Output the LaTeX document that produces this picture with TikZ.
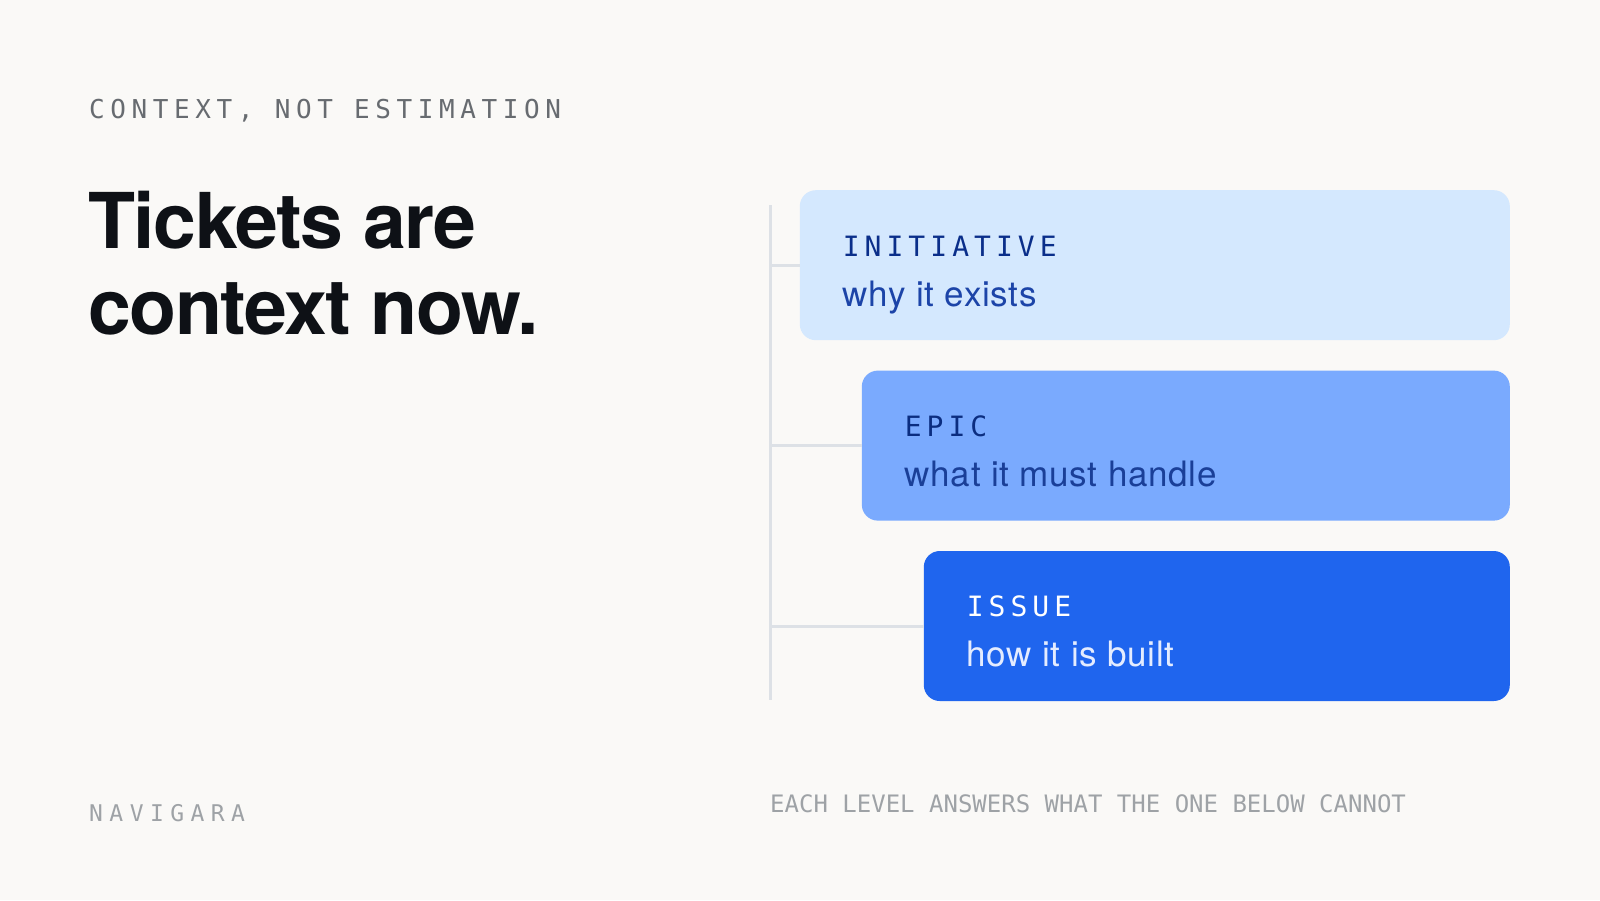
\documentclass[tikz,border=0pt]{standalone}
\usepackage{fontspec}
\setmainfont{TeX Gyre Heros}
\newfontfamily\titlefont[LetterSpace=-2]{TeX Gyre Heros}
\newfontfamily\whatfont[LetterSpace=2]{TeX Gyre Heros}
\newfontfamily\kickermono[LetterSpace=21.5]{DejaVu Sans Mono}
\newfontfamily\tagmono[LetterSpace=18]{DejaVu Sans Mono}
\newfontfamily\brandmono[LetterSpace=28]{DejaVu Sans Mono}
\newfontfamily\notemono{DejaVu Sans Mono}
\usetikzlibrary{positioning}

\definecolor{paper}{HTML}{FAF9F7}
\definecolor{ink}{HTML}{0E1116}
\definecolor{kickergray}{HTML}{676B70}
\definecolor{softgray}{HTML}{9EA2A6}
\definecolor{spine}{HTML}{DDE1E6}
\definecolor{initfill}{HTML}{D4E8FE}
\definecolor{epicfill}{HTML}{7AAAFE}
\definecolor{issuefill}{HTML}{1F65EE}
\definecolor{inittag}{HTML}{0A2E8A}
\definecolor{initwhat}{HTML}{1C44A8}
\definecolor{epictag}{HTML}{0B2D80}
\definecolor{epicwhat}{HTML}{1A3F98}
\definecolor{issuewhat}{HTML}{E4ECFF}

\begin{document}
\begin{tikzpicture}[x=1pt, y=-1pt, node distance=30pt]
	\tikzstyle{level}=[rectangle, rounded corners=16pt, minimum height=150pt, inner sep=0pt]
	\tikzstyle{tag}=[inner sep=0pt, anchor=base west, font=\tagmono\fontsize{28pt}{28pt}\selectfont]
	\tikzstyle{what}=[inner sep=0pt, anchor=base west, font=\whatfont\fontsize{35pt}{35pt}\selectfont]
	\tikzstyle{branch}=[draw=spine, line width=3pt]
	\fill[paper] (0,0) rectangle (1600,900);

	% left column
	\node[anchor=base west, inner sep=0pt, text=kickergray, font=\kickermono\fontsize{26pt}{26pt}\selectfont] (kicker) at (89,118) {CONTEXT, NOT ESTIMATION};
	\node[anchor=base west, inner sep=0pt, align=left, text=ink, font=\titlefont\bfseries\fontsize{77pt}{86pt}\selectfont] (title) at (88,334) {Tickets are\\context now.};
	\node[anchor=base west, inner sep=0pt, text=softgray, font=\brandmono\fontsize{23pt}{23pt}\selectfont] (brand) at (89,821) {NAVIGARA};

	% levels
	\node[level, fill=initfill, minimum width=710pt, anchor=north east] (initiative) at (1510,190) {};
	\node[level, fill=epicfill, minimum width=648pt, below=30pt of initiative.south east, anchor=north east] (epic) {};
	\node[level, fill=issuefill, minimum width=586pt, below=30pt of epic.south east, anchor=north east] (issue) {};

	\node[tag, text=inittag] (initiativetag) at ([xshift=43pt, yshift=-66pt]initiative.north west) {INITIATIVE};
	\node[what, text=initwhat] (initiativewhat) at ([xshift=43pt, yshift=-116pt]initiative.north west) {why it exists};
	\node[tag, text=epictag] (epictag) at ([xshift=43pt, yshift=-66pt]epic.north west) {EPIC};
	\node[what, text=epicwhat] (epicwhat) at ([xshift=43pt, yshift=-116pt]epic.north west) {what it must handle};
	\node[tag, text=white] (issuetag) at ([xshift=43pt, yshift=-66pt]issue.north west) {ISSUE};
	\node[what, text=issuewhat] (issuewhat) at ([xshift=43pt, yshift=-116pt]issue.north west) {how it is built};

	% spine and branches
	\coordinate (spinetop) at (770,205);
	\coordinate (spinebot) at (770,700);
	\draw[branch] (spinetop) -- (spinebot);
	\foreach \lvl in {initiative, epic, issue}
		\draw[branch] (spinetop |- \lvl.west) -- (\lvl.west);

	\node[anchor=base west, inner sep=0pt, text=softgray, font=\notemono\fontsize{24pt}{24pt}\selectfont] (note) at (770,812) {EACH LEVEL ANSWERS WHAT THE ONE BELOW CANNOT};
\end{tikzpicture}
\end{document}
